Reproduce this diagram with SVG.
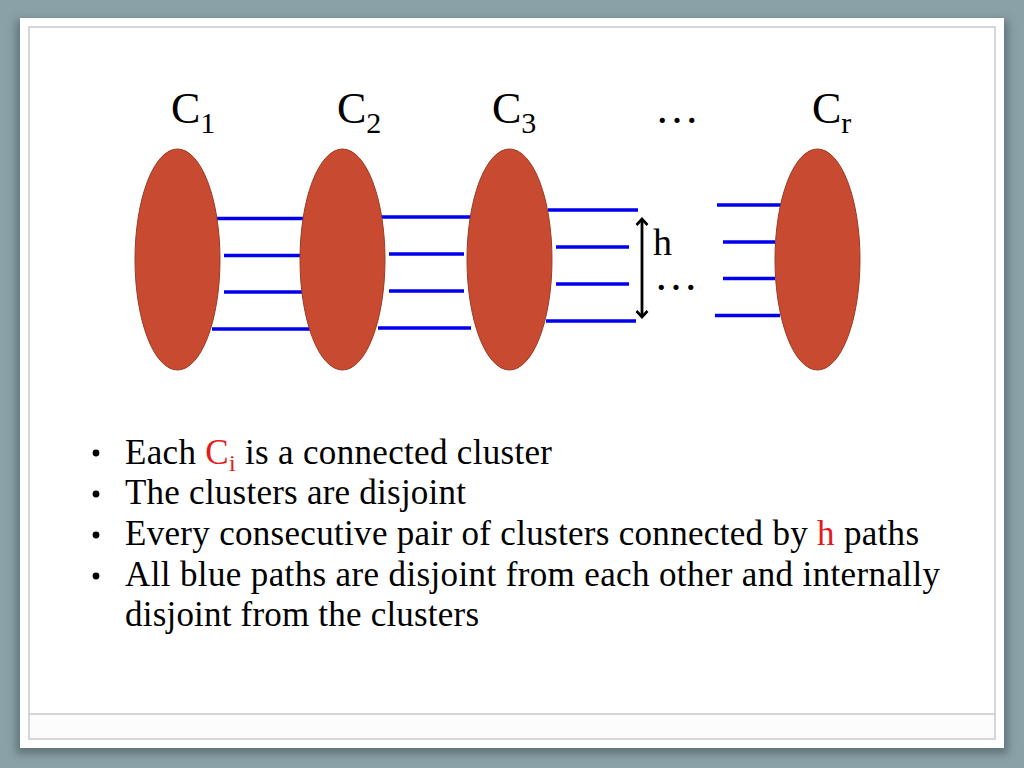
<svg xmlns="http://www.w3.org/2000/svg" width="1024" height="768" viewBox="0 0 1024 768">
<defs>
<style>
.lbl{font-family:"Liberation Serif","Times New Roman",serif;fill:#000}
.big{font-size:44px}
.sub{font-size:30px}
.body{font-family:"Liberation Serif","Times New Roman",serif;font-size:35px;fill:#000}
.cl{fill:#C84B31;stroke:#9A3B26;stroke-width:1}
.path{stroke:#0000EE;stroke-width:3.5;fill:none}
.red{fill:#E31B1B}
</style>
<filter id="sh" x="-5%" y="-5%" width="110%" height="110%">
<feGaussianBlur stdDeviation="4"/>
</filter>
<marker id="ah" viewBox="0 0 14 14" refX="12" refY="7" markerWidth="14" markerHeight="14" markerUnits="userSpaceOnUse" orient="auto-start-reverse">
<path d="M6,1.5 L12,7 L6,12.5" fill="none" stroke="#000" stroke-width="2.6" stroke-linejoin="miter"/>
</marker>
</defs>
<rect width="1024" height="768" fill="#8AA1A7"/>
<rect x="16" y="20" width="992" height="734" fill="#4F6266" opacity="0.7" filter="url(#sh)"/>
<rect x="20" y="18" width="984" height="730" fill="#FFFFFF"/>
<rect x="29" y="27" width="966" height="712" fill="none" stroke="#C8C8C8" stroke-width="1.5"/>
<line x1="29" y1="714" x2="995" y2="714" stroke="#C8C8C8" stroke-width="1.5"/>
<rect x="30" y="715" width="964" height="23" fill="#FCFCFC"/>

<g id="label-c1"><text class="lbl big" x="171" y="123">C<tspan class="sub" dy="10">1</tspan></text></g>
<g id="label-c2"><text class="lbl big" x="337" y="123">C<tspan class="sub" dy="10">2</tspan></text></g>
<g id="label-c3"><text class="lbl big" x="492" y="123">C<tspan class="sub" dy="10">3</tspan></text></g>
<g id="label-dots"><text class="lbl big" x="655" y="123">…</text></g>
<g id="label-cr"><text class="lbl big" x="812" y="123">C<tspan class="sub" dy="10">r</tspan></text></g>

<g id="connectors">
<line class="path" x1="215" y1="218.5" x2="314" y2="218.5"/>
<line class="path" x1="224" y1="255.5" x2="304" y2="255.5"/>
<line class="path" x1="224" y1="292" x2="304" y2="292"/>
<line class="path" x1="212" y1="329" x2="311" y2="329"/>
<line class="path" x1="381" y1="217" x2="473" y2="217"/>
<line class="path" x1="389" y1="254" x2="464" y2="254"/>
<line class="path" x1="389" y1="291" x2="464" y2="291"/>
<line class="path" x1="378" y1="328" x2="471" y2="328"/>
<line class="path" x1="548" y1="210" x2="638" y2="210"/>
<line class="path" x1="556" y1="247" x2="629" y2="247"/>
<line class="path" x1="556" y1="284" x2="629" y2="284"/>
<line class="path" x1="546" y1="321" x2="636" y2="321"/>
<line class="path" x1="717" y1="205" x2="782" y2="205"/>
<line class="path" x1="723" y1="242" x2="775" y2="242"/>
<line class="path" x1="723" y1="278.5" x2="775" y2="278.5"/>
<line class="path" x1="715" y1="315.5" x2="780" y2="315.5"/>
<line x1="642" y1="219" x2="642" y2="317" stroke="#000" stroke-width="2.8" marker-start="url(#ah)" marker-end="url(#ah)"/>
</g>

<g id="cluster-c1"><ellipse class="cl" cx="177.5" cy="259.5" rx="42.5" ry="110.5"/></g>
<g id="cluster-c2"><ellipse class="cl" cx="342.5" cy="259.5" rx="42.5" ry="110.5"/></g>
<g id="cluster-c3"><ellipse class="cl" cx="509.5" cy="259.5" rx="42.5" ry="110.5"/></g>
<g id="cluster-cr"><ellipse class="cl" cx="817.5" cy="259.5" rx="42.5" ry="110.5"/></g>

<g id="h-label"><text class="lbl" style="font-size:38px" x="653" y="255">h</text>
<text class="lbl big" x="654" y="290">…</text></g>

<g id="bullets">
<circle cx="96" cy="453" r="3.4" fill="#000"/>
<circle cx="96" cy="494" r="3.4" fill="#000"/>
<circle cx="96" cy="535" r="3.4" fill="#000"/>
<circle cx="96" cy="576" r="3.4" fill="#000"/>
<text class="body" x="125" y="464" textLength="427" lengthAdjust="spacing">Each <tspan class="red">C</tspan><tspan class="red" style="font-size:24px" dy="7">i</tspan><tspan dy="-7"> is a connected cluster</tspan></text>
<text class="body" x="125" y="504" textLength="341" lengthAdjust="spacing">The clusters are disjoint</text>
<text class="body" x="125" y="545" textLength="794" lengthAdjust="spacing">Every consecutive pair of clusters connected by <tspan class="red">h</tspan> paths</text>
<text class="body" x="125" y="586" textLength="815" lengthAdjust="spacing">All blue paths are disjoint from each other and internally</text>
<text class="body" x="125" y="626" textLength="354" lengthAdjust="spacing">disjoint from the clusters</text>
</g>
</svg>
